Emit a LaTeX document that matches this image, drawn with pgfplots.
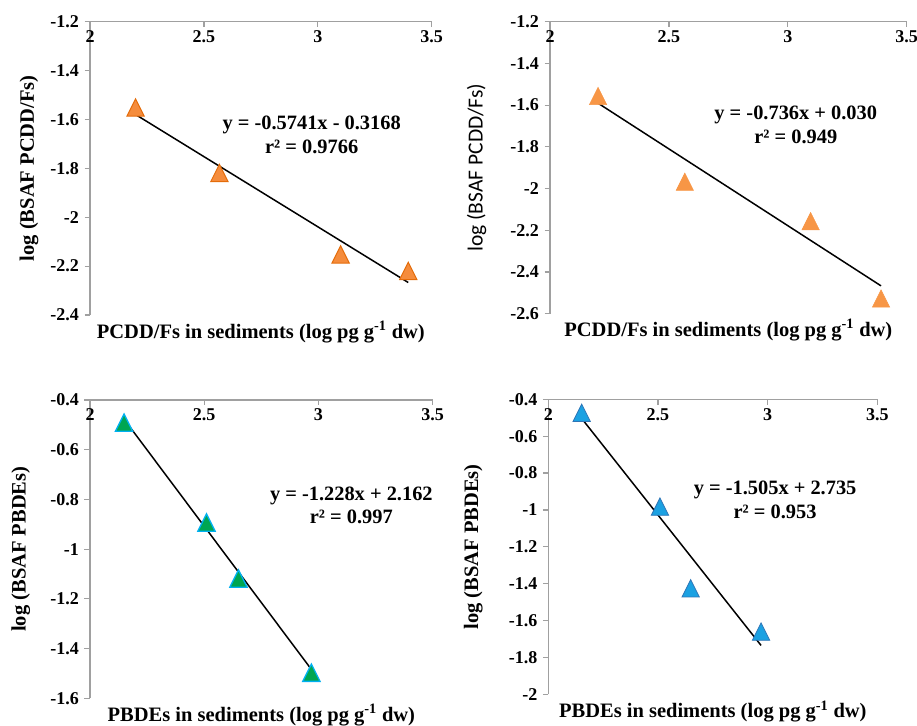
\documentclass[border=0pt]{standalone}
\usepackage{fontspec}
\setmainfont{Liberation Serif}
\newfontfamily\calibri{Carlito}
\usepackage{pgfplots}
\pgfplotsset{compat=1.18}

\definecolor{axgray}{RGB}{160,160,160}
\definecolor{orgfill}{RGB}{245,140,60}
\definecolor{orgdraw}{RGB}{228,108,10}
\definecolor{orgtwo}{RGB}{247,150,70}
\definecolor{grnfill}{RGB}{0,166,81}
\definecolor{cyandraw}{RGB}{0,176,240}
\definecolor{bluefill}{RGB}{27,161,226}
\definecolor{bluedraw}{RGB}{46,117,182}

\pgfplotsset{
  panel/.style={
    scale only axis,
    clip=false,
    axis x line=top, axis y line=left,
    axis line style={-, draw=axgray, line width=1.5pt},
    every outer x axis line/.append style={-},
    every outer y axis line/.append style={-},
    every tick/.style={draw=axgray, line width=1.2pt},
    xtick align=inside, ytick align=outside,
    major tick length=5.5pt,
    xmin=2, xmax=3.5,
    xtick={2,2.5,3,3.5}, xticklabels={2,2.5,3,3.5},
    xticklabel style={anchor=north, yshift=-5.5pt},
    yticklabel style={xshift=-2pt},
    tick label style={font=\fontsize{18}{20}\selectfont\bfseries},
    label style={font=\fontsize{20.5}{24}\selectfont\bfseries},
  },
  tri/.style={only marks, mark=triangle*, mark size=10pt},
  trend/.style={black, line width=1.5pt, mark=none},
}
\tikzset{eq/.style={align=center, font=\fontsize{20.4}{23.4}\selectfont\bfseries}}

\begin{document}
\begin{tikzpicture}
\useasboundingbox (0,0) rectangle (917pt,725pt);

% top left: PCDD/Fs
\begin{axis}[panel, at={(90pt,703.3pt)}, anchor=north west,
  width=341.7pt, height=293.3pt,
  ymin=-2.4, ymax=-1.2,
  ytick={-2.4,-2.2,-2,-1.8,-1.6,-1.4,-1.2},
  yticklabels={-2.4,-2.2,-2,-1.8,-1.6,-1.4,-1.2},
  xlabel={PCDD/Fs in sediments (log pg g\textsuperscript{-1} dw)},
  xlabel style={at={(axis description cs:0.5,-0.058)}, anchor=center},
  ylabel={log (BSAF PCDD/Fs)},
  ylabel style={at={(axis description cs:-0.1785,0.5)}, anchor=center}]
\addplot[trend] coordinates {(2.200,-1.5798) (3.397,-2.2670)};
\addplot[tri, mark options={fill=orgfill, draw=orgdraw, line width=1pt, yshift=-2.9pt, yscale=1.155}]
  coordinates {(2.200,-1.551) (2.568,-1.819) (3.100,-2.152) (3.397,-2.220)};
\node[eq] at (axis cs:2.973,-1.6625) {y = -0.5741x - 0.3168\\r² = 0.9766};
\end{axis}

% top right: PCDD/Fs
\begin{axis}[panel, at={(550pt,703.3pt)}, anchor=north west,
  width=356.7pt, height=292pt,
  ymin=-2.6, ymax=-1.2,
  ytick={-2.6,-2.4,-2.2,-2,-1.8,-1.6,-1.4,-1.2},
  yticklabels={-2.6,-2.4,-2.2,-2,-1.8,-1.6,-1.4,-1.2},
  xlabel={PCDD/Fs in sediments (log pg g\textsuperscript{-1} dw)},
  xlabel style={at={(axis description cs:0.5,-0.056)}, anchor=center},
  ylabel={log (BSAF PCDD/Fs)},
  ylabel style={at={(axis description cs:-0.2055,0.5)}, anchor=center,
    font=\fontsize{21.5}{24}\selectfont\calibri}]
\addplot[trend] coordinates {(2.202,-1.5907) (3.392,-2.4665)};
\addplot[tri, mark options={fill=orgtwo, draw=orgtwo, line width=0.5pt, yshift=-2.9pt, yscale=1.155}]
  coordinates {(2.202,-1.556) (2.567,-1.967) (3.096,-2.156) (3.392,-2.527)};
\node[eq] at (axis cs:3.0335,-1.695) {y = -0.736x + 0.030\\r² = 0.949};
\end{axis}

% bottom left: PBDEs
\begin{axis}[panel, at={(90pt,325pt)}, anchor=north west,
  width=342.7pt, height=298.3pt,
  ymin=-1.6, ymax=-0.4,
  ytick={-1.6,-1.4,-1.2,-1,-0.8,-0.6,-0.4},
  yticklabels={-1.6,-1.4,-1.2,-1,-0.8,-0.6,-0.4},
  xlabel={PBDEs in sediments (log pg g\textsuperscript{-1} dw)},
  xlabel style={at={(axis description cs:0.5,-0.056)}, anchor=center},
  ylabel={log (BSAF PBDEs)},
  ylabel style={at={(axis description cs:-0.202,0.5)}, anchor=center}]
\addplot[trend] coordinates {(2.149,-0.4770) (2.969,-1.4839)};
\addplot[tri, mark options={fill=grnfill, draw=cyandraw, line width=1.3pt, yshift=-2.9pt, yscale=1.155}]
  coordinates {(2.149,-0.491) (2.510,-0.893) (2.650,-1.118) (2.969,-1.497)};
\node[eq] at (axis cs:3.144,-0.823) {y = -1.228x + 2.162\\r² = 0.997};
\end{axis}

% bottom right: PBDEs
\begin{axis}[panel, at={(548.3pt,325.7pt)}, anchor=north west,
  width=329pt, height=295pt,
  ymin=-2, ymax=-0.4,
  ytick={-2,-1.8,-1.6,-1.4,-1.2,-1,-0.8,-0.6,-0.4},
  yticklabels={-2,-1.8,-1.6,-1.4,-1.2,-1,-0.8,-0.6,-0.4},
  xlabel={PBDEs in sediments (log pg g\textsuperscript{-1} dw)},
  xlabel style={at={(axis description cs:0.5,-0.059)}, anchor=center},
  ylabel={log (BSAF PBDEs)},
  ylabel style={at={(axis description cs:-0.228,0.5)}, anchor=center}]
\addplot[trend] coordinates {(2.152,-0.5037) (2.970,-1.7349)};
\addplot[tri, mark options={fill=bluefill, draw=bluedraw, line width=0.8pt, yshift=-2.9pt, yscale=1.155}]
  coordinates {(2.152,-0.473) (2.509,-0.982) (2.649,-1.425) (2.970,-1.660)};
\node[eq] at (axis cs:3.034,-0.946) {y = -1.505x + 2.735\\r² = 0.953};
\end{axis}
\end{tikzpicture}
\end{document}
